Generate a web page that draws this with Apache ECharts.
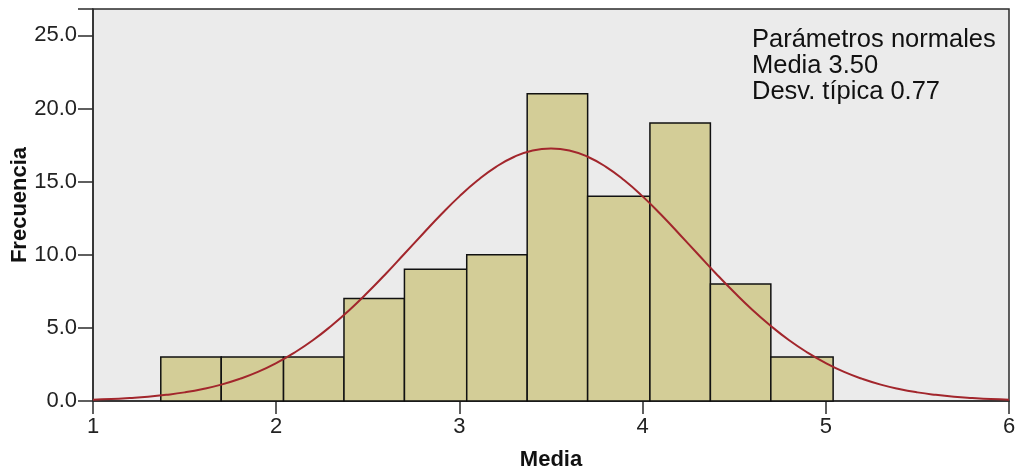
<!DOCTYPE html>
<html>
<head>
<meta charset="utf-8">
<script src="https://cdn.jsdelivr.net/npm/echarts@6/dist/echarts.min.js"></script>
<style>
html,body{margin:0;padding:0;background:#fff;}
#c{width:1018px;height:472px;}
</style>
</head>
<body>
<div id="c"></div>
<script>
// Histogram bins: [start, end]
var binStarts = [1.37, 1.70, 2.04, 2.37, 2.70, 3.04, 3.37, 3.70, 4.04, 4.37, 4.70];
var binEnds   = [1.70, 2.04, 2.37, 2.70, 3.04, 3.37, 3.70, 4.04, 4.37, 4.70, 5.04];
var counts    = [3, 3, 3, 7, 9, 10, 21, 14, 19, 8, 3];

// Normal curve (Media 3.50, Desv. típica 0.77, N = 100) read at steps of 0.1
var curveX = [1.0,1.1,1.2,1.3,1.4,1.5,1.6,1.7,1.8,1.9,2.0,2.1,2.2,2.3,2.4,2.5,2.6,2.7,2.8,2.9,3.0,3.1,3.2,3.3,3.4,3.5,
              3.6,3.7,3.8,3.9,4.0,4.1,4.2,4.3,4.4,4.5,4.6,4.7,4.8,4.9,5.0,5.1,5.2,5.3,5.4,5.5,5.6,5.7,5.8,5.9,6.0];
var curveY = [0.09,0.13,0.20,0.29,0.42,0.59,0.82,1.12,1.51,1.99,2.59,3.31,4.15,5.13,6.22,7.43,8.72,10.07,11.42,12.75,13.99,15.09,16.01,16.70,17.13,17.27,
              17.13,16.70,16.01,15.09,13.99,12.75,11.42,10.07,8.72,7.43,6.22,5.13,4.15,3.31,2.59,1.99,1.51,1.12,0.82,0.59,0.42,0.29,0.20,0.13,0.09];

var yTicks = [0, 5, 10, 15, 20, 25];
var xTicks = [1, 2, 3, 4, 5, 6];
var annotationLines = ['Parámetros normales', 'Media 3.50', 'Desv. típica 0.77'];

var chart = echarts.init(document.getElementById('c'));
var barData = binStarts.map(function (s, i) { return [s, binEnds[i], counts[i]]; });
var lineData = curveX.map(function (x, i) { return [x, curveY[i]]; });
var font = 'Liberation Sans, Arial, sans-serif';

chart.setOption({
  animation: false,
  backgroundColor: '#ffffff',
  grid: {
    left: 93, right: 9, top: 9, bottom: 71,
    containLabel: false, outerBoundsMode: 'none',
    show: true, backgroundColor: '#EBEBEB', borderColor: '#2b2b2b', borderWidth: 1.5
  },
  xAxis: {
    type: 'value', min: xTicks[0], max: xTicks[xTicks.length - 1], interval: 1,
    name: 'Media', nameLocation: 'middle', nameGap: 48, nameMoveOverlap: false,
    nameTextStyle: { fontFamily: font, fontSize: 22, fontWeight: 'bold', color: '#111' },
    axisLine: { show: true, onZero: false, lineStyle: { color: '#2b2b2b', width: 1.5 } },
    axisTick: { show: true, length: 13, lineStyle: { color: '#2b2b2b', width: 1.5 } },
    axisLabel: { fontFamily: font, fontSize: 22, color: '#222', margin: 15 },
    splitLine: { show: false }
  },
  yAxis: {
    type: 'value', min: 0, max: 26.8, interval: 5,
    name: 'Frecuencia', nameLocation: 'middle', nameGap: 62, nameRotate: 90, nameMoveOverlap: false,
    nameTextStyle: { fontFamily: font, fontSize: 22, fontWeight: 'bold', color: '#111' },
    axisLine: { show: true, lineStyle: { color: '#2b2b2b', width: 1.5 } },
    axisTick: { show: true, length: 15, lineStyle: { color: '#2b2b2b', width: 1.5 } },
    axisLabel: {
      fontFamily: font, fontSize: 22, color: '#222', margin: 16,
      formatter: function (v) { return yTicks.indexOf(v) >= 0 ? v.toFixed(1) : ''; }
    },
    splitLine: { show: false }
  },
  series: [
    {
      type: 'custom',
      data: barData,
      encode: { x: [0, 1], y: 2 },
      renderItem: function (params, api) {
        var p0 = api.coord([api.value(0), api.value(2)]);
        var p1 = api.coord([api.value(1), 0]);
        return {
          type: 'rect',
          shape: { x: p0[0], y: p0[1], width: p1[0] - p0[0], height: p1[1] - p0[1] },
          style: { fill: '#D3CD97', stroke: '#111', lineWidth: 1.5 }
        };
      },
      z: 2
    },
    {
      type: 'line',
      data: lineData,
      smooth: true,
      showSymbol: false,
      symbol: 'none',
      lineStyle: { color: '#A2262C', width: 2 },
      z: 3
    }
  ],
  graphic: [{
    type: 'text',
    left: 752, top: 27,
    style: {
      text: annotationLines.join('\n'),
      fontFamily: font, fontSize: 25.5, lineHeight: 26, fill: '#111'
    }
  }]
});
</script>
</body>
</html>
